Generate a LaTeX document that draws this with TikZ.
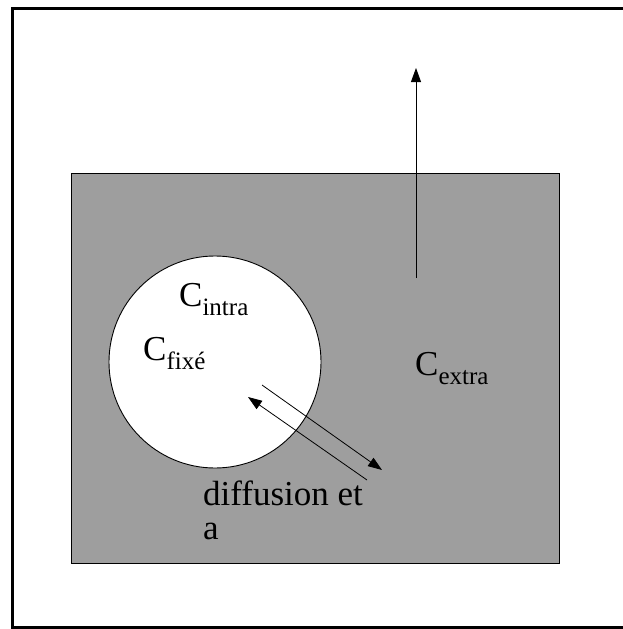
\documentclass[tikz,border=0pt]{standalone}
\usepackage{fontspec}
\setmainfont{Liberation Serif}
\usetikzlibrary{arrows.meta}
\newcommand{\subtx}[1]{\raisebox{-9pt}{\fontsize{25}{28}\selectfont #1}}
\begin{document}
\begin{tikzpicture}[x=1pt,y=-1pt,
  frame/.style={line width=3pt,draw=black},
  medium/.style={draw=black,line width=1pt,fill=black!38},
  cell/.style={circle,draw=black,line width=0.9pt,fill=white,inner sep=0pt,minimum size=212pt},
  flow/.style={line width=0.8pt,-{Triangle[length=14pt,width=10pt]}},
  lbl/.style={inner sep=0pt,anchor=base west,font=\fontsize{35}{40}\selectfont}]
\useasboundingbox (0,0) rectangle (622,629);
\fill[white] (0,0) rectangle (622,629);
\draw[frame] (640,8) -- (12.5,8) -- (12.5,627.5) -- (640,627.5);
\node[medium,minimum width=488pt,minimum height=390pt,inner sep=0pt] (box) at (315.5,368.5) {};
\node[cell] (c) at (215,362) {};
\coordinate (v0) at (416,278);
\coordinate (v1) at (416,68);
\draw[flow] (v0) -- (v1);
\coordinate (a0) at (262,385);
\coordinate (a1) at (382,470);
\coordinate (b0) at (367,480);
\coordinate (b1) at (248,397);
\draw[flow] (a0) -- (a1);
\draw[flow] (b0) -- (b1);
\node[lbl] (ci) at (179,306) {C\subtx{intra}};
\node[lbl] (cf) at (143,360) {C\subtx{fixé}};
\node[lbl] (ce) at (415,375) {C\subtx{extra}};
\node[lbl] (d1) at (203,505) {diffusion et};
\node[lbl] (d2) at (203,539) {a};
\end{tikzpicture}
\end{document}
